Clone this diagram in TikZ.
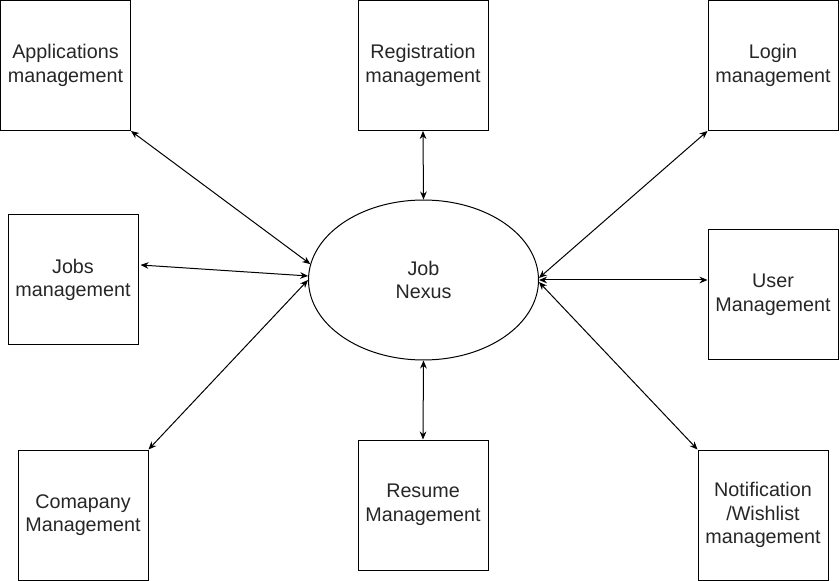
\documentclass[tikz,border=0pt]{standalone}
\usepackage{fontspec}
\setmainfont{Liberation Sans}
\usetikzlibrary{arrows.meta,shapes.geometric}
\begin{document}
\begin{tikzpicture}[x=0.75pt,y=-0.75pt,
  box/.style={draw, line width=0.75pt, minimum width=97.5pt, minimum height=97.5pt, align=center, inner sep=0pt, font=\fontsize{14.8}{17.7}\selectfont, text=black!85},
  hub/.style={draw, ellipse, line width=0.75pt, minimum width=172.5pt, minimum height=120pt, align=center, inner sep=0pt, font=\fontsize{14.8}{17.7}\selectfont, text=black!85},
  conn/.style={line width=0.75pt, {Stealth[length=6pt,width=5pt]}-{Stealth[length=6pt,width=5pt]}}]
\useasboundingbox (0,0) rectangle (840,581);
\node[box] (app) at (65.5,65.5) {Applications\\management};
\node[box] (reg) at (423,65.5) {Registration\\management};
\node[box] (login) at (773,65.5) {Login\\management};
\node[box] (jobs) at (73,280) {Jobs\\management};
\node[box] (user) at (773,295) {User\\Management};
\node[box] (comp) at (83,515) {Comapany\\Management};
\node[box] (res) at (423,505) {Resume\\Management};
\node[box] (notif) at (763,515) {Notification\\/Wishlist\\management};
\node[hub] (nexus) at (423.5,280) {Job\\Nexus};
\draw[conn] (app.south east) -- (nexus.172.5);
\draw[conn] ([xshift=1.5pt,yshift=11.25pt]jobs.east) -- (nexus.178.5);
\draw[conn] (comp.north east) -- (nexus.180.5);
\draw[conn] (reg.south) -- (nexus.north);
\draw[conn] (res.north) -- (nexus.south);
\draw[conn] (login.south west) -- (nexus.1.5);
\draw[conn] ([yshift=11.25pt]user.west) -- (nexus.0);
\draw[conn] (notif.north west) -- (nexus.-1.5);
\end{tikzpicture}
\end{document}
